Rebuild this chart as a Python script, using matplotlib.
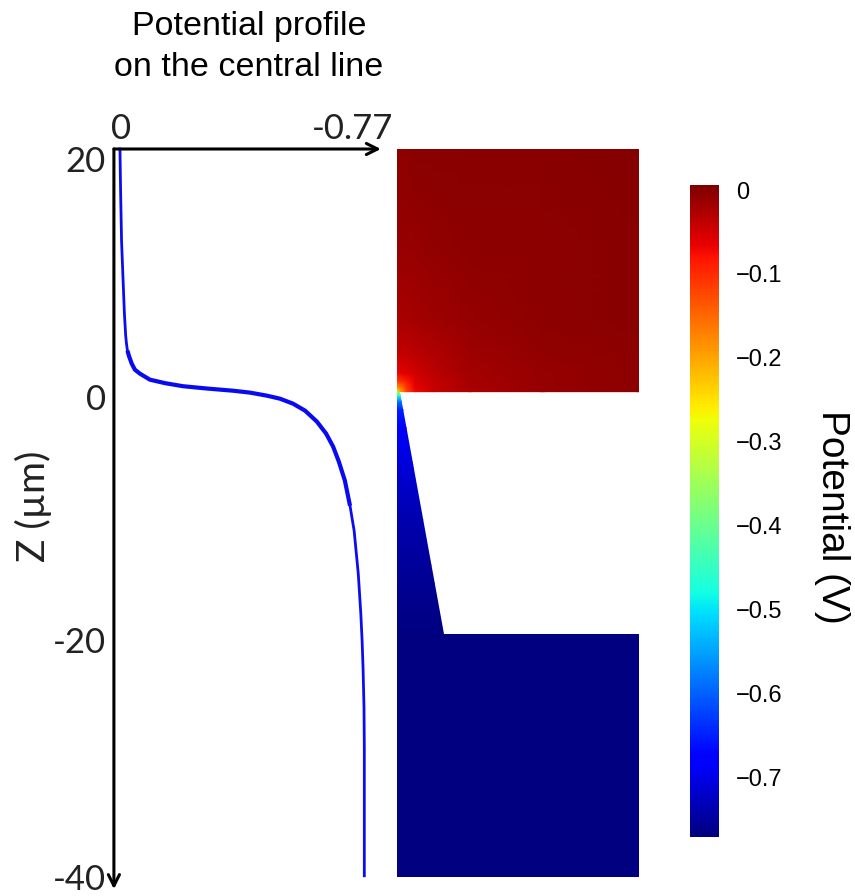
import numpy as np
import matplotlib
matplotlib.use('Agg')
import matplotlib.pyplot as plt
from matplotlib.cm import ScalarMappable
from matplotlib.colors import Normalize
from matplotlib.patches import Polygon

W, H = 855, 896

# Perfil de potencial sobre la linea central
perfil_z = [20, 16.57, 12.45, 9.73, 6.43, 4.62, 3.96, 3.38, 2.89, 2.31, 1.81, 1.48, 0.99, 0.70, 0.45, 0.25, 0.08, -0.08,
            -0.33, -0.58, -0.99, -1.57, -2.47, -3.46, -4.53, -5.77, -7.34, -9.4, -11.46, -15.0, -18.3, -20.5, -22.75,
            -26, -29.35, -39.9]
perfil_v = [-0.003, -0.005, -0.008, -0.012, -0.017, -0.021, -0.0235, -0.0265, -0.032, -0.04, -0.05, -0.066, -0.097, -0.145,
            -0.201, -0.28, -0.358, -0.412, -0.465, -0.506, -0.547, -0.585, -0.622, -0.651, -0.673, -0.691, -0.71,
            -0.726, -0.739, -0.752, -0.760, -0.764, -0.767, -0.770, -0.771, -0.771]

# Campo del bloque superior
sup_x = [0, 0.3, 0.8, 1.5, 3, 6, 12, 20]
sup_z = [0, 0.3, 0.8, 1.5, 3, 6, 12, 20]
sup_v = [[-.30, -.20, -.12, -.07, -.045, -.025, -.012, -.006],
         [-.20, -.17, -.11, -.065, -.042, -.024, -.012, -.006],
         [-.12, -.11, -.09, -.06, -.04, -.022, -.011, -.005],
         [-.07, -.065, -.06, -.05, -.035, -.02, -.01, -.005],
         [-.045, -.042, -.04, -.035, -.028, -.016, -.008, -.004],
         [-.025, -.024, -.022, -.02, -.016, -.012, -.006, -.003],
         [-.012, -.012, -.011, -.01, -.008, -.006, -.004, -.002],
         [-.004, -.004, -.004, -.003, -.003, -.002, -.001, 0]]

# Campo de la punta y del bloque inferior
inf_x = [0, 20]
inf_z = [-40, -20, -15, -10, -6, -3, -1.5, -0.8, -0.3, 0]
inf_v = [-.77, -.77, -.755, -.735, -.71, -.688, -.65, -.58, -.45, -.36]
punta_x = [0, 0.25, 3.9, 20, 20, 0]
punta_z = [0, 0, -20, -20, -40, -40]

z_ticks = ['20', '0', '-20', '-40']
cb_ticks = [0, -0.1, -0.2, -0.3, -0.4, -0.5, -0.6, -0.7]
VMIN, VMAX = -0.771, 0.006


def caja(x0, y0, x1, y1):
    # pixeles de la imagen a fraccion de figura
    return [x0 / W, 1 - y1 / H, (x1 - x0) / W, (y1 - y0) / H]


fig = plt.figure(figsize=(W / 100, H / 100), dpi=100)

# Perfil
ax = fig.add_axes(caja(119, 149, 364, 877))
ax.set_xlim(0, -0.77)
ax.set_ylim(-40, 20)
ax.axis('off')
ax.plot(perfil_v[:8], perfil_z[:8], color='#0c0cf0', lw=2.0, clip_on=False)
ax.plot(perfil_v[7:28], perfil_z[7:28], color='#0a0af0', lw=3.0, clip_on=False, solid_capstyle='butt')
ax.plot(perfil_v[27:], perfil_z[27:], color='#0c0cf0', lw=2.0, clip_on=False)
flecha = dict(arrowstyle='->', color='black', lw=2.2, mutation_scale=20, shrinkA=0, shrinkB=0)
ax.annotate('', xy=(-0.823, 20), xytext=(0.016, 20), arrowprops=flecha, annotation_clip=False)
ax.annotate('', xy=(0.016, -41), xytext=(0.016, 20), arrowprops=flecha, annotation_clip=False)

# Mapa de potencial
mapa = fig.add_axes(caja(397, 149, 639, 877))
mapa.set_xlim(0, 20)
mapa.set_ylim(-40, 20)
mapa.axis('off')
mapa.pcolormesh(sup_x, sup_z, np.array(sup_v), cmap='jet', vmin=VMIN, vmax=VMAX, shading='gouraud')
malla = mapa.pcolormesh(inf_x, inf_z, np.column_stack([inf_v, inf_v]), cmap='jet', vmin=VMIN, vmax=VMAX,
                        shading='gouraud')
forma = Polygon(np.column_stack([punta_x, punta_z]), closed=True, transform=mapa.transData)
malla.set_clip_path(forma)

# Barra de color
cax = fig.add_axes(caja(690, 185, 719, 837))
cb = fig.colorbar(ScalarMappable(Normalize(VMIN, VMAX), cmap='jet'), cax=cax)
cb.set_ticks(cb_ticks)
cb.set_ticklabels(['0'] + ['\u2212%.1f' % abs(t) for t in cb_ticks[1:]])
cb.ax.tick_params(labelsize=17, length=0, pad=12)
for lab in cb.ax.get_yticklabels():
    lab.set_family('Liberation Sans')
cb.outline.set_visible(False)
fig.text(832 / W, 1 - 517 / H, 'Potential (V)', rotation=270, ha='center', va='center',
         family='Liberation Sans', fontsize=28)

# Textos
fig.text(249 / W, 1 - 27 / H, 'Potential profile', ha='center', va='center', family='Liberation Sans', fontsize=24.5)
fig.text(249 / W, 1 - 68 / H, 'on the central line', ha='center', va='center', family='Liberation Sans', fontsize=24.5)
fig.text(121 / W, 1 - 129 / H, '0', ha='center', va='center', family='Lato', fontsize=25, color='#222222')
fig.text(353 / W, 1 - 129 / H, '-0.77', ha='center', va='center', family='Lato', fontsize=25, color='#222222')
for lab, y in zip(z_ticks, [162, 400, 643, 880]):
    fig.text(106 / W, 1 - y / H, lab, ha='right', va='center', family='Lato', fontsize=25, color='#222222')
fig.text(33 / W, 1 - 506 / H, 'Z (\u00b5m)', rotation=90, ha='center', va='center', family='Lato', fontsize=28,
         color='#222222')

fig.savefig('out.png', dpi=100, facecolor='white')
